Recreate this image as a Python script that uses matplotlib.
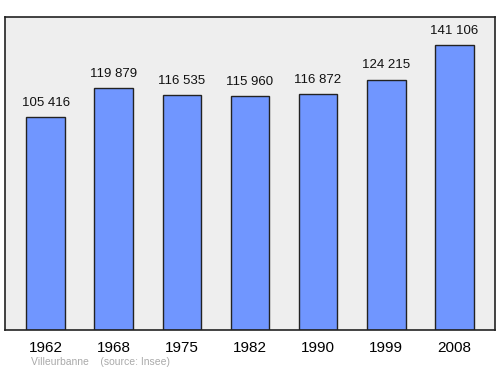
import matplotlib.pyplot as plt

years = ['1962', '1968', '1975', '1982', '1990', '1999', '2008']
population = [105416, 119879, 116535, 115960, 116872, 124215, 141106]
labels = ['105 416', '119 879', '116 535', '115 960', '116 872', '124 215', '141 106']

plt.rcParams['font.family'] = ['Liberation Sans', 'DejaVu Sans']

fig = plt.figure(figsize=(5, 3.74), dpi=100)
ax = fig.add_axes([0.01, 0.1176, 0.98, 0.8369])
ax.set_facecolor('#eeeeee')

x = list(range(len(years)))
ax.bar(x, population, width=0.57, color='#7096ff', edgecolor='#222222', linewidth=1, zorder=2)

for i in x:
    ax.annotate(labels[i], (i, population[i]), xytext=(0, 6), textcoords='offset points',
                ha='center', va='bottom', fontsize=9.5, color='#111111')

ax.set_xlim(-0.6, 6.6)
ax.set_ylim(0, max(population) * 1.1)
ax.set_xticks(x)
ax.set_xticklabels(years, fontsize=11)
ax.tick_params(length=0, pad=8)
ax.set_yticks([])
for s in ax.spines.values():
    s.set_linewidth(1.2)
    s.set_color('#222222')

fig.text(0.062, 0.024, 'Villeurbanne    (source: Insee)', fontsize=7.5, color='#aaaaaa')

plt.savefig('out.png', dpi=100)
